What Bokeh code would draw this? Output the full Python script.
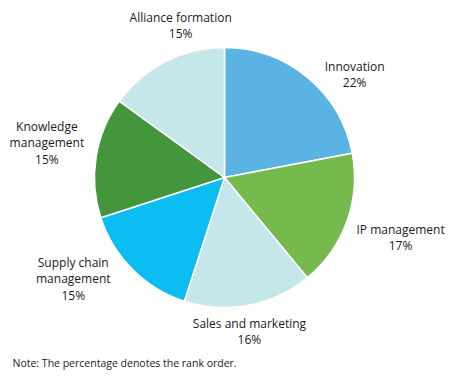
import math
from bokeh.plotting import figure
from bokeh.models import Range1d, ColumnDataSource
from bokeh.core.properties import value
from bokeh.embed import file_html
from bokeh.resources import INLINE

categories = ["Innovation", "IP management", "Sales and marketing",
              "Supply chain\nmanagement", "Knowledge\nmanagement", "Alliance formation"]
shares = [22, 17, 16, 15, 15, 15]
colors = ["#5BB3E4", "#76B94C", "#C6E7EA", "#0BBDF0", "#43963B", "#C6E7EA"]
note = "Note: The percentage denotes the rank order."

W, H = 451, 378
cx, cy, R = 224, H - 177, 130

p = figure(width=W, height=H, output_backend="svg", toolbar_location=None,
           x_range=Range1d(0, W), y_range=Range1d(0, H), min_border=0)
p.axis.visible = False
p.grid.visible = False
p.outline_line_color = None
p.background_fill_color = "white"
p.border_fill_color = "white"

total = sum(shares)
starts, ends, mids = [], [], []
cum = 0
for s in shares:
    f0 = cum / total
    cum += s
    f1 = cum / total
    starts.append(math.pi / 2 - 2 * math.pi * f1)
    ends.append(math.pi / 2 - 2 * math.pi * f0)
    mids.append((f0 + f1) / 2)

src = ColumnDataSource(dict(start=starts, end=ends, color=colors))
p.wedge(x=cx, y=cy, radius=R, start_angle="start", end_angle="end",
        fill_color="color", line_color="white", line_width=1.5, source=src)

# label layout: (distance of block centre from pie centre, angle nudge in degrees)
layout = [(166, 12), (186, -1), (156, 1.6), (182, 11.2), (181, 2.1), (158, 10.9)]
LINE = 16.5
lx, ly, lt = [], [], []
for cat, s, m, (r, nudge) in zip(categories, shares, mids, layout):
    a = 2 * math.pi * m + math.radians(nudge)
    bx = cx + r * math.sin(a)
    by = cy + r * math.cos(a)
    lines = cat.split("\n") + [f"{s}%"]
    n = len(lines)
    for i, t in enumerate(lines):
        lx.append(bx)
        ly.append(by + (n - 1) / 2 * LINE - i * LINE)
        lt.append(t)

lsrc = ColumnDataSource(dict(x=lx, y=ly, text=lt))
p.text(x="x", y="y", text="text", source=lsrc, text_align="center",
       text_baseline="middle", text_font=value("Open Sans"),
       text_font_size="12px", text_color="#1a1a1a")

p.text(x=[12], y=[H - 362], text=[note], text_align="left", text_baseline="middle",
       text_font=value("Open Sans"), text_font_size="10.5px", text_color="#1a1a1a")

open("out.html", "w").write(file_html(p, INLINE))
